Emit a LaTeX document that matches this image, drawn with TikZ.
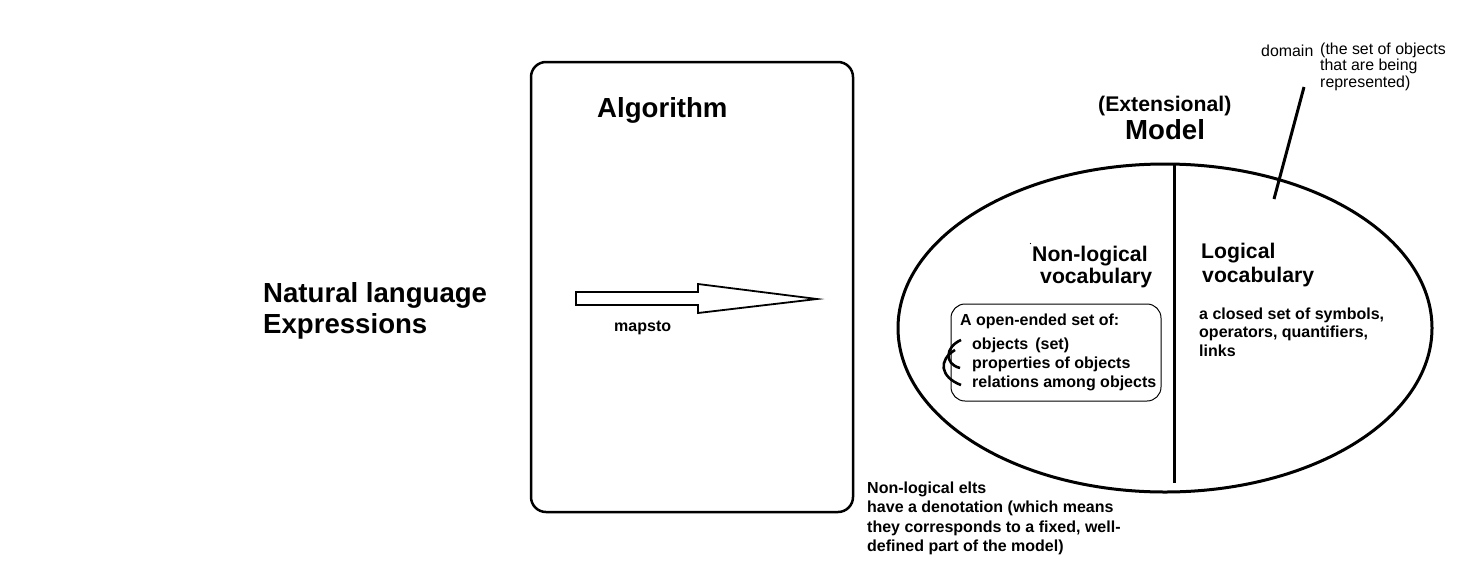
\documentclass[tikz,border=0pt]{standalone}
\usepackage{fontspec}
\setmainfont{Liberation Sans}
\usetikzlibrary{shapes.geometric}
\tikzset{
  big/.style={font=\bfseries\fontsize{27.6}{31}\selectfont, inner sep=0pt},
  mid/.style={font=\bfseries\fontsize{21.2}{24}\selectfont, inner sep=0pt},
  small/.style={font=\bfseries\fontsize{16}{19.5}\selectfont, inner sep=0pt},
  note/.style={font=\fontsize{15.9}{16.5}\selectfont, inner sep=0pt},
  thick line/.style={line width=3pt},
}
\begin{document}
\begin{tikzpicture}[x=1pt,y=-1pt]
\useasboundingbox[fill=white] (0,0) rectangle (1461,568);

% Natural language
\node[big, anchor=north west, align=left] (nl) at (263,282.5) {Natural language\\Expressions};

% Algorithm box
\node[draw, line width=2.5pt, rounded corners=15pt, minimum width=322pt, minimum height=450pt, inner sep=0pt] (algbox) at (692,287) {};
\node[big, anchor=base west] (alg) at (597,117) {Algorithm};

% arrow
\draw[line width=1.8pt, fill=white, line join=miter]
  (576,292) -- (698,292) -- (698,284) -- (817,299) -- (698,313) -- (698,305) -- (576,305) -- cycle;
\node[small, anchor=base west] (maps) at (614,331) {mapsto};

% Model
\node[mid, anchor=base west] (ext) at (1098,111) {(Extensional)};
\node[big, anchor=base west] (model) at (1125,139) {Model};

% ellipse
\node[draw, ellipse, line width=3pt, minimum width=534pt, minimum height=328pt, inner sep=0pt] (ell) at (1165,328) {};
\coordinate (vtop) at (1174.5,164);
\coordinate (vbot) at (1174.5,483);
\draw[thick line] (vtop) -- (vbot);

% domain
\node[note, anchor=base west] (dom) at (1261,56) {domain};
\node[note, anchor=north west, align=left] (domnote) at (1320,42.5) {(the set of objects\\that are being\\represented)};
\coordinate (dtop) at (1304,87);
\coordinate (dbot) at (1274,199);
\draw[thick line] (dtop) -- (dbot);

% non-logical
\node[mid, anchor=base west] (nonl1) at (1032,261) {Non-logical};
\node[mid, anchor=base west] (nonl2) at (1040,283) {vocabulary};
\fill (1030.5,243.5) circle (0.7pt);

\node[mid, anchor=base west] (log1) at (1201,258) {Logical};
\node[mid, anchor=base west] (log2) at (1202,282) {vocabulary};
\node[small, anchor=north west, align=left, font=\bfseries\fontsize{16}{18.5}\selectfont] (closed) at (1199,307.5) {a closed set of symbols,\\operators, quantifiers,\\links};

% inner box
\node[draw, line width=1pt, rounded corners=14pt, minimum width=210pt, minimum height=97pt, inner sep=0pt] (setbox) at (1056,352.5) {};
\node[small, anchor=base west] (open) at (960,325) {A open-ended set of:};
\node[small, anchor=north west, align=left, font=\bfseries\fontsize{16}{19}\selectfont] (items) at (972,337.5) {objects\, (set)\\properties of objects\\relations among objects};
\coordinate (a1s) at (961,340);
\coordinate (a1e) at (960,368);
\coordinate (a2s) at (955,350);
\coordinate (a2e) at (961,385);
\draw[line width=2.6pt] (a1s) .. controls (945,347) and (944,364) .. (a1e);
\draw[line width=2.6pt] (a2s) .. controls (938,360) and (940,377) .. (a2e);

% bottom note
\node[small, anchor=north west, align=left] (elts) at (867,481.5) {Non-logical elts\\have a denotation (which means\\they corresponds to a fixed, well-\\defined part of the model)};
\end{tikzpicture}
\end{document}
